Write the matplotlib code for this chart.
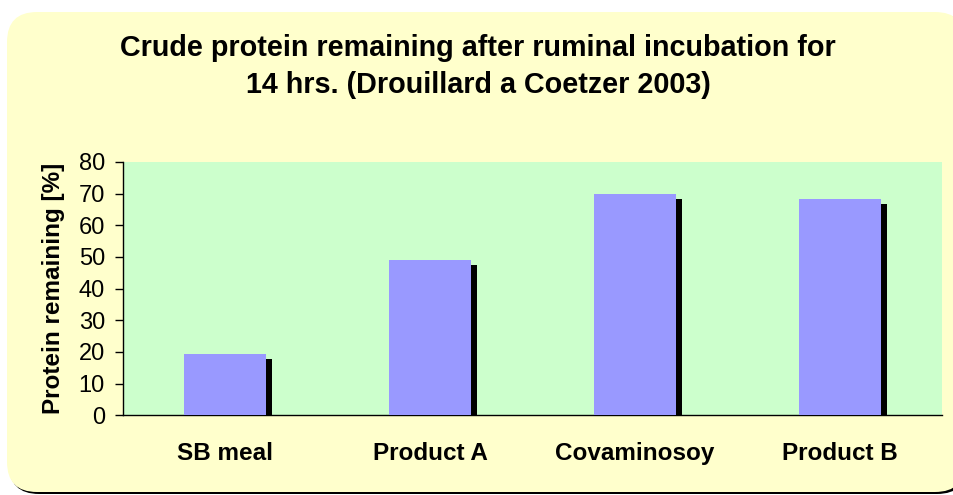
import matplotlib
matplotlib.use('Agg')
import matplotlib.pyplot as plt
from matplotlib.patches import FancyBboxPatch
import numpy as np

categories = ['SB meal', 'Product A', 'Covaminosoy', 'Product B']
protein_remaining = [19.4, 49.0, 69.9, 68.3]
y_ticks = [0, 10, 20, 30, 40, 50, 60, 70, 80]

TITLE = 'Crude protein remaining after ruminal incubation for\n14 hrs. (Drouillard a Coetzer 2003)'
Y_LABEL = 'Protein remaining [%]'

plt.rcParams['font.family'] = ['Liberation Sans', 'DejaVu Sans']

W, H = 954, 495
fig = plt.figure(figsize=(W / 100, H / 100), dpi=100, facecolor='white')

# rounded chart background with a dark shadow
aspect = W / H
r = 30 / W
x0, y0 = 7 / W, 3 / H
bw, bh = (965 - 7) / W, (492 - 12) / H
shadow = FancyBboxPatch((x0 + 2 / W, y0 - 2 / H), bw, bh,
                        boxstyle='round,pad=0,rounding_size=%f' % r,
                        mutation_aspect=aspect, transform=fig.transFigure,
                        facecolor='black', edgecolor='none', zorder=-2)
bg = FancyBboxPatch((x0, y0), bw, bh,
                    boxstyle='round,pad=0,rounding_size=%f' % r,
                    mutation_aspect=aspect, transform=fig.transFigure,
                    facecolor='#FFFFCC', edgecolor='none', zorder=-1)
fig.patches.extend([shadow, bg])

fig.text(478 / W, 1 - 66.5 / H, TITLE, ha='center', va='center', fontsize=20.7,
         fontweight='bold', linespacing=1.4, multialignment='center')

ax = fig.add_axes([123 / W, (H - 415.3) / H, 819 / W, 253.3 / H])
ax.set_zorder(2)
ax.set_facecolor('#CCFFCC')

x = np.arange(len(categories))
width = 0.40
dx = 6 / (819 / len(categories))
dy = 5 / (253.3 / 80)
vals = np.array(protein_remaining)

ax.bar(x + dx, vals - dy, width=width, color='black', zorder=2)
ax.bar(x, vals, width=width, color='#9999FF', zorder=3)

ax.set_xlim(-0.5, len(categories) - 0.5)
ax.set_ylim(0, 80)
ax.set_yticks(y_ticks)
ax.set_xticks(x)
ax.set_xticklabels(categories, fontsize=17.5, fontweight='bold')
ax.tick_params(axis='x', length=0, pad=19)
ax.tick_params(axis='y', length=6, width=1, labelsize=17, pad=7, direction='out')
ax.set_ylabel(Y_LABEL, fontsize=17.5, fontweight='bold', labelpad=10)

for s in ['top', 'right']:
    ax.spines[s].set_visible(False)
for s in ['left', 'bottom']:
    ax.spines[s].set_linewidth(1.0)
    ax.spines[s].set_color('black')

fig.savefig('out.png', dpi=100, facecolor='white')
